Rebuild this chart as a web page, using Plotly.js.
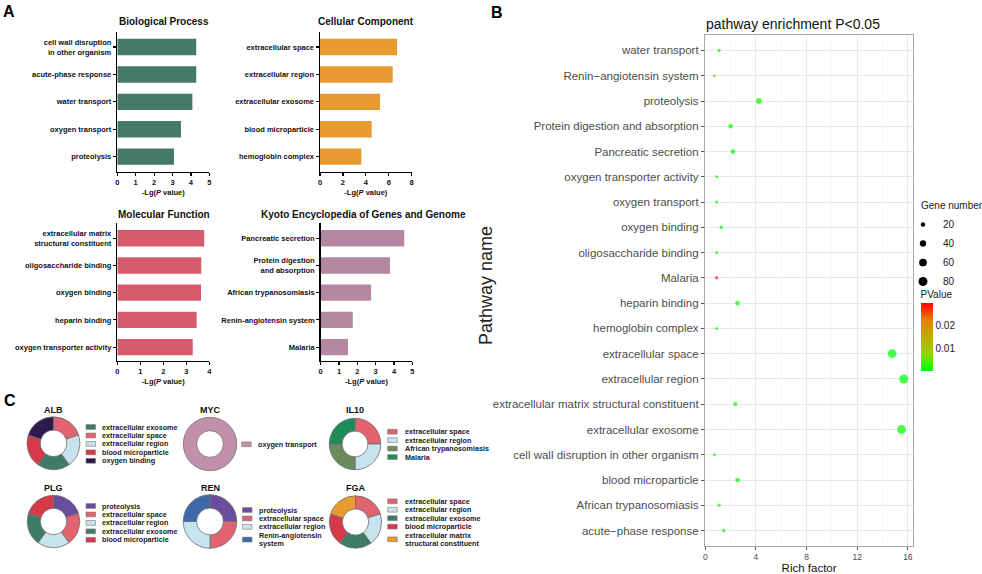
<!DOCTYPE html>
<html>
<head>
<meta charset="utf-8">
<script src="https://cdn.plot.ly/plotly-3.0.1.min.js"></script>
<style>
html,body{margin:0;padding:0;background:#fff;}
#chart{width:982px;height:574px;}
</style>
</head>
<body>
<div id="chart"></div>
<script>
// ---------------- Panel A data (-Lg(P value)) ----------------
const bpTerms = ['cell wall disruption<br>in other organism', 'acute-phase response', 'water transport', 'oxygen transport', 'proteolysis'];
const bpValues = [4.29, 4.29, 4.08, 3.46, 3.08];

const ccTerms = ['extracellular space', 'extracellular region', 'extracellular exosome', 'blood microparticle', 'hemoglobin complex'];
const ccValues = [6.72, 6.34, 5.24, 4.51, 3.61];

const mfTerms = ['extracellular matrix<br>structural constituent', 'oligosaccharide binding', 'oxygen binding', 'heparin binding', 'oxygen transporter activity'];
const mfValues = [3.78, 3.65, 3.64, 3.45, 3.28];

const keggTerms = ['Pancreatic secretion', 'Protein digestion<br>and absorption', 'African trypanosomiasis', 'Renin-angiotensin system', 'Malaria'];
const keggValues = [4.56, 3.78, 2.75, 1.75, 1.49];

// ---------------- Panel B data ----------------
const pathwayTerms = [
  'water transport', 'Renin\u2212angiotensin system', 'proteolysis', 'Protein digestion and absorption',
  'Pancreatic secretion', 'oxygen transporter activity', 'oxygen transport', 'oxygen binding',
  'oligosaccharide binding', 'Malaria', 'heparin binding', 'hemoglobin complex',
  'extracellular space', 'extracellular region', 'extracellular matrix structural constituent',
  'extracellular exosome', 'cell wall disruption in other organism', 'blood microparticle',
  'African trypanosomiasis', 'acute\u2212phase response'
];
const richFactor = [1.09, 0.72, 4.23, 2.00, 2.19, 0.90, 0.90, 1.27, 0.90, 0.90, 2.55, 0.90, 14.76, 15.68, 2.37, 15.50, 0.72, 2.55, 1.09, 1.45];
const geneNumber = [11, 5, 35, 22, 22, 9, 9, 13, 9, 9, 22, 9, 76, 82, 18, 80, 5, 22, 11, 13];
const pValue = [0.0001, 0.0178, 0.0008, 0.00017, 0.00003, 0.0005, 0.0003, 0.0002, 0.0002, 0.030, 0.0004, 0.0003,
                0.0000002, 0.0000005, 0.0002, 0.000006, 0.00005, 0.00003, 0.0018, 0.00005];
const geneLegendLevels = [20, 40, 60, 80];
const pTickVals = [0.01, 0.02];

// ---------------- Panel C data ----------------
const albLabels = ['extracellular space', 'extracellular region', 'extracellular exosome', 'blood microparticle', 'oxygen binding'];
const albShares = [1, 1, 1, 1, 1];
const albLegend = ['extracellular exosome', 'extracellular space', 'extracellular region', 'blood microparticle', 'oxygen binding'];

const mycLabels = ['oxygen transport'];
const mycShares = [1];

const il10Labels = ['extracellular space', 'extracellular region', 'African trypanosomiasis', 'Malaria'];
const il10Shares = [1, 1, 1, 1];

const plgLabels = ['proteolysis', 'extracellular space', 'extracellular region', 'extracellular exosome', 'blood microparticle'];
const plgShares = [1, 1, 1, 1, 1];

const renLabels = ['proteolysis', 'extracellular space', 'extracellular region', 'Renin-angiotensin<br>system'];
const renShares = [1, 1, 1, 1];

const fgaLabels = ['extracellular space', 'extracellular region', 'extracellular exosome', 'blood microparticle', 'extracellular matrix<br>structural constituent'];
const fgaShares = [1, 1, 1, 1, 1];

// ---------------- styling ----------------
const termColors = {
  'extracellular space': '#e0636f',
  'extracellular region': '#c6e3ee',
  'extracellular exosome': '#3f7b69',
  'blood microparticle': '#d63a4a',
  'oxygen binding': '#2d1b4d',
  'oxygen transport': '#c191ab',
  'African trypanosomiasis': '#6c8b5c',
  'Malaria': '#1f8b59',
  'proteolysis': '#6a4d9d',
  'Renin-angiotensin<br>system': '#3d69a8',
  'extracellular matrix<br>structural constituent': '#e89c2f'
};

const FONT = 'Liberation Sans, Arial, Helvetica, sans-serif';
const W = 982, H = 574;
const fx = v => v / W;
const fy = v => 1 - v / H;

const layout = {
  width: W, height: H, autosize: false,
  margin: {l: 0, r: 0, t: 0, b: 0},
  paper_bgcolor: '#fff', plot_bgcolor: 'rgba(0,0,0,0)',
  font: {family: FONT, color: '#111'},
  annotations: [], shapes: [],
  showlegend: true,
  legend: {
    x: fx(903), xanchor: 'left', y: fy(210), yanchor: 'top',
    font: {family: FONT, size: 10, color: '#1a1a1a'},
    bgcolor: 'rgba(0,0,0,0)', itemwidth: 30, itemclick: false, itemdoubleclick: false,
    traceorder: 'normal'
  }
};

const traces = [];

// ---------------- Panel A bars ----------------
const barPanels = [
  {terms: bpTerms, values: bpValues, color: '#457a6b', title: 'Biological Process', titleX: 163.5, titleY: 21.7,
   xd: [117.3, 209.3], yd: [32.3, 171.7], range: [0, 5], dtick: 1, yrange: [4.55, -0.54]},
  {terms: ccTerms, values: ccValues, color: '#e89b31', title: 'Cellular Component', titleX: 366, titleY: 21.7,
   xd: [320, 411.7], yd: [32.3, 171.7], range: [0, 8], dtick: 2, yrange: [4.55, -0.54]},
  {terms: mfTerms, values: mfValues, color: '#d55b6d', title: 'Molecular Function', titleX: 164, titleY: 214.3,
   xd: [117.3, 209.3], yd: [223.3, 360.7], range: [0, 4], dtick: 1, yrange: [4.5, -0.55]},
  {terms: keggTerms, values: keggValues, color: '#b5869f', title: 'Kyoto Encyclopedia of Genes and Genome', titleX: 363.2, titleY: 214.3,
   xd: [320.7, 412.3], yd: [223.3, 360.7], range: [0, 5], dtick: 1, yrange: [4.5, -0.55]}
];

const boldTick = {family: FONT, size: 7.5, color: '#111', weight: 'bold'};

barPanels.forEach((p, i) => {
  const n = i + 1;
  traces.push({
    type: 'bar', orientation: 'h', x: p.values, y: p.terms,
    xaxis: 'x' + n, yaxis: 'y' + n, width: 0.6,
    marker: {color: p.color, line: {width: 0}},
    showlegend: false, hoverinfo: 'x+y'
  });
  layout['xaxis' + n] = {
    domain: [fx(p.xd[0]), fx(p.xd[1])], anchor: 'y' + n,
    range: p.range, tick0: 0, dtick: p.dtick,
    showline: true, linewidth: 1.5, linecolor: '#000',
    ticks: 'outside', ticklen: 3, tickwidth: 1.2, tickcolor: '#000',
    showgrid: false, zeroline: false, fixedrange: true,
    tickfont: boldTick,
    title: {text: '-Lg(<i>P</i> value)', font: boldTick, standoff: 3}
  };
  layout['yaxis' + n] = {
    domain: [fy(p.yd[1]), fy(p.yd[0])], anchor: 'x' + n,
    type: 'category', categoryorder: 'array', categoryarray: p.terms,
    range: p.yrange, autorange: false,
    showline: true, linewidth: 1.5, linecolor: '#000',
    ticks: 'outside', ticklen: 3, tickwidth: 1.2, tickcolor: '#000',
    showgrid: false, zeroline: false, fixedrange: true,
    tickfont: boldTick
  };
  layout.annotations.push({
    text: p.title, xref: 'paper', yref: 'paper', x: fx(p.titleX), y: fy(p.titleY),
    xanchor: 'center', yanchor: 'middle', showarrow: false,
    font: {family: FONT, size: 10, color: '#111', weight: 'bold'}
  });
});

// ---------------- Panel B bubble chart ----------------
const SIZE_REF = 2;
const bubbleDiameter = nGenes => 2 * Math.sqrt(nGenes / 2 / SIZE_REF);
const pvalScale = [[0, '#00ff00'], [0.25, '#8fd600'], [0.5, '#bfac00'], [0.75, '#e58000'], [1, '#ff0000']];

traces.push({
  type: 'scatter', mode: 'markers', x: richFactor, y: pathwayTerms,
  xaxis: 'x5', yaxis: 'y5', showlegend: false,
  customdata: geneNumber,
  hovertemplate: '%{y}<br>Rich factor %{x}<br>Gene number %{customdata}<extra></extra>',
  marker: {
    size: geneNumber, sizemode: 'area', sizeref: SIZE_REF, sizemin: 1.5,
    color: pValue, cmin: 0, cmax: Math.max(...pValue), colorscale: pvalScale,
    line: {width: 0},
    colorbar: {
      x: fx(920.5), xanchor: 'left', xpad: 0,
      y: fy(371), yanchor: 'bottom', ypad: 0,
      len: 84, lenmode: 'pixels', thickness: 11.5, thicknessmode: 'pixels',
      outlinewidth: 0, ticks: '', tickvals: pTickVals, ticktext: pTickVals.map(String),
      tickfont: {family: FONT, size: 10, color: '#1a1a1a'},
      title: {text: 'PValue', side: 'top', font: {family: FONT, size: 10, color: '#1a1a1a'}}
    }
  }
});

geneLegendLevels.forEach(nGenes => {
  traces.push({
    type: 'scatter', mode: 'markers', x: [null], y: [null], xaxis: 'x5', yaxis: 'y5',
    name: String(nGenes), showlegend: true, hoverinfo: 'skip',
    marker: {size: bubbleDiameter(nGenes), color: '#000'}
  });
});

layout.xaxis5 = {
  domain: [fx(704.9), fx(913.3)], anchor: 'y5',
  range: [-0.03, 16.43], tick0: 0, dtick: 4,
  showgrid: true, gridcolor: '#e9e9e9', gridwidth: 1,
  minor: {tick0: 0, dtick: 2, showgrid: true, gridcolor: '#f4f4f4', gridwidth: 0.6, ticks: ''},
  showline: true, mirror: true, linecolor: '#a8a8a8', linewidth: 1,
  ticks: 'outside', ticklen: 3, tickwidth: 1, tickcolor: '#555',
  zeroline: false, fixedrange: true,
  tickfont: {family: FONT, size: 8.5, color: '#4d4d4d'},
  title: {text: 'Rich factor', font: {family: FONT, size: 11.5, color: '#111'}, standoff: 2}
};
layout.yaxis5 = {
  domain: [fy(545.7), fy(35.3)], anchor: 'x5',
  type: 'category', categoryorder: 'array', categoryarray: pathwayTerms,
  range: [19.6, -0.6], autorange: false,
  showgrid: true, gridcolor: '#e9e9e9', gridwidth: 1,
  showline: true, mirror: true, linecolor: '#a8a8a8', linewidth: 1,
  ticks: 'outside', ticklen: 3, tickwidth: 1, tickcolor: '#555',
  zeroline: false, fixedrange: true,
  tickfont: {family: FONT, size: 11.5, color: '#4d4d4d'}
};

layout.annotations.push(
  {text: 'pathway enrichment P&lt;0.05', xref: 'paper', yref: 'paper', x: fx(704), y: fy(24),
   xanchor: 'left', yanchor: 'middle', showarrow: false, font: {family: FONT, size: 14, color: '#111'}},
  {text: 'Pathway name', xref: 'paper', yref: 'paper', x: fx(486), y: fy(286), textangle: -90,
   xanchor: 'center', yanchor: 'middle', showarrow: false, font: {family: FONT, size: 18, color: '#222'}},
  {text: 'Gene number', xref: 'paper', yref: 'paper', x: fx(919), y: fy(206),
   xanchor: 'left', yanchor: 'middle', showarrow: false, font: {family: FONT, size: 10, color: '#1a1a1a'}}
);

// ---------------- Panel C donuts ----------------
const donuts = [
  {name: 'ALB', labels: albLabels, shares: albShares, legend: albLegend, cx: 53.5, cy: 443.3, r: 26.5, ty: 410,
   sw: 86, tx: 100, ly: 427},
  {name: 'MYC', labels: mycLabels, shares: mycShares, legend: mycLabels, cx: 210, cy: 444, r: 26.7, ty: 410,
   sw: 241.7, tx: 256, ly: 444.3},
  {name: 'IL10', labels: il10Labels, shares: il10Shares, legend: il10Labels, cx: 355, cy: 444, r: 25.8, ty: 409.5,
   sw: 387.7, tx: 402.7, ly: 431.7},
  {name: 'PLG', labels: plgLabels, shares: plgShares, legend: plgLabels, cx: 53.5, cy: 521.5, r: 26.3, ty: 487.5,
   sw: 86, tx: 100, ly: 506},
  {name: 'REN', labels: renLabels, shares: renShares, legend: renLabels, cx: 210, cy: 521.5, r: 26.8, ty: 488.5,
   sw: 242.5, tx: 256.5, ly: 510},
  {name: 'FGA', labels: fgaLabels, shares: fgaShares, legend: fgaLabels, cx: 355.5, cy: 522, r: 26.2, ty: 488.3,
   sw: 387.7, tx: 402.7, ly: 501.3}
];
const LEG_STEP = 8.45;
const legFont = {family: FONT, size: 7.2, color: '#1a1a1a', weight: 'bold'};

donuts.forEach(d => {
  traces.push({
    type: 'pie', labels: d.labels, values: d.shares, name: d.name,
    hole: 0.5, sort: false, direction: 'clockwise', rotation: 0,
    textinfo: 'none', hoverinfo: 'label', showlegend: false,
    marker: {colors: d.labels.map(l => termColors[l]), line: {color: '#707070', width: 0.8}},
    domain: {x: [fx(d.cx - d.r), fx(d.cx + d.r)], y: [fy(d.cy + d.r), fy(d.cy - d.r)]}
  });
  layout.annotations.push({
    text: d.name, xref: 'paper', yref: 'paper', x: fx(d.cx), y: fy(d.ty),
    xanchor: 'center', yanchor: 'middle', showarrow: false,
    font: {family: FONT, size: 9, color: '#111', weight: 'bold'}
  });
  let line = 0;
  d.legend.forEach(label => {
    const parts = label.split('<br>');
    const firstY = d.ly + line * LEG_STEP;
    const centerY = firstY + (parts.length - 1) * LEG_STEP / 2;
    parts.forEach((t, k) => {
      layout.annotations.push({
        text: t, xref: 'paper', yref: 'paper', x: fx(d.tx), y: fy(firstY + k * LEG_STEP),
        xanchor: 'left', yanchor: 'middle', showarrow: false, font: legFont
      });
    });
    layout.shapes.push({
      type: 'rect', xref: 'paper', yref: 'paper',
      x0: fx(d.sw), x1: fx(d.sw + 9.5), y0: fy(centerY + 2.4), y1: fy(centerY - 2.4),
      fillcolor: termColors[label], line: {color: '#777', width: 0.6}
    });
    line += parts.length;
  });
});

// ---------------- panel letters ----------------
[['A', 9, 11.5], ['B', 496.7, 12.5], ['C', 10, 400.8]].forEach(([t, x, y]) => {
  layout.annotations.push({
    text: t, xref: 'paper', yref: 'paper', x: fx(x), y: fy(y),
    xanchor: 'center', yanchor: 'middle', showarrow: false,
    font: {family: FONT, size: 16, color: '#000', weight: 'bold'}
  });
});

Plotly.newPlot('chart', traces, layout, {staticPlot: true, displayModeBar: false});
</script>
</body>
</html>
